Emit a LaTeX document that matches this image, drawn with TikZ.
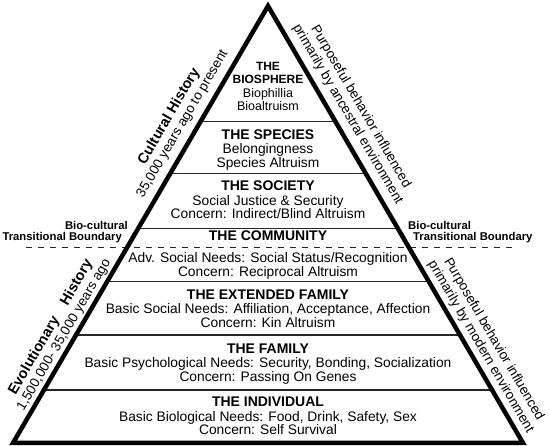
\documentclass[tikz,border=0pt]{standalone}
\usepackage{fontspec}
\setmainfont{Liberation Sans}
\usetikzlibrary{calc}
\tikzset{
  edge/.style={line width=4.5pt, line join=miter},
  divider/.style={line width=1.4pt, black!85},
  boundary/.style={line width=1.4pt, black!85, dash pattern=on 6pt off 6pt},
  head/.style={anchor=base, inner sep=0pt, font=\fontsize{14}{14}\selectfont\bfseries},
  body/.style={anchor=base, inner sep=0pt, font=\fontsize{13.8}{14}\selectfont},
  smallhead/.style={anchor=base, inner sep=0pt, font=\fontsize{12}{12}\selectfont\bfseries},
  smallbody/.style={anchor=base, inner sep=0pt, font=\fontsize{12.5}{12}\selectfont},
  tlabel/.style={inner sep=0pt, font=\fontsize{11.3}{12}\selectfont\bfseries},
  sidelabel/.style={align=center, inner sep=0pt, font=\fontsize{13.5}{15}\selectfont},
}
\begin{document}
\begin{tikzpicture}[x=1pt,y=-1pt]
\useasboundingbox (0,0) rectangle (550,446);
\coordinate (A) at (268,6);
\coordinate (BL) at (13,443);
\coordinate (BR) at (523,443);
% dividers
\foreach \t [count=\i] in {0.2643,0.3828,0.5087,0.6309,0.7529,0.8787}{
  \coordinate (l\i) at ($(A)!\t!(BL)$);
  \coordinate (r\i) at ($(A)!\t!(BR)$);
  \draw[divider] (l\i) -- (r\i);
}
\coordinate (dl) at (26,247.5);
\coordinate (dr) at (514,247.5);
\draw[boundary] (dl) -- (dr);
% outline
\draw[edge] (A) -- (BL) -- (BR) -- cycle;
% biosphere
\node[smallhead] (bio1) at (268,70.7) {THE};
\node[smallhead] (bio2) at (268,83.3) {BIOSPHERE};
\node[smallbody] (bio3) at (268,98) {Biophillia};
\node[smallbody] (bio4) at (268,111) {Bioaltruism};
% species
\node[head] (spe1) at (268,139.3) {THE SPECIES};
\node[body] (spe2) at (268,153.8) {Belongingness};
\node[body] (spe3) at (268,167.3) {Species Altruism};
% society
\node[head] (soc1) at (268,190.7) {THE SOCIETY};
\node[body] (soc2) at (268,205.2) {Social Justice \& Security};
\node[body] (soc3) at (268,218.7) {Concern: Indirect/Blind Altruism};
% community
\node[head] (com1) at (268,241) {THE COMMUNITY};
\node[body] (com2) at (268,263) {Adv. Social Needs: Social Status/Recognition};
\node[body] (com3) at (268,276.3) {Concern: Reciprocal Altruism};
% extended family
\node[head] (ext1) at (268,299.3) {THE EXTENDED FAMILY};
\node[body] (ext2) at (268,313.8) {Basic Social Needs: Affiliation, Acceptance, Affection};
\node[body] (ext3) at (268,327.3) {Concern: Kin Altruism};
% family
\node[head] (fam1) at (268,353.3) {THE FAMILY};
\node[body] (fam2) at (268,367.8) {Basic Psychological Needs: Security, Bonding, Socialization};
\node[body] (fam3) at (268,381.3) {Concern: Passing On Genes};
% individual
\node[head] (ind1) at (268,406.7) {THE INDIVIDUAL};
\node[body] (ind2) at (268,421.2) {Basic Biological Needs: Food, Drink, Safety, Sex};
\node[body] (ind3) at (268,434.7) {Concern: Self Survival};
% transitional boundary labels
\node[tlabel, anchor=base east] (tl1) at (128,229.5) {Bio-cultural};
\node[tlabel, anchor=base east] (tl2) at (122,240.7) {Transitional Boundary};
\node[tlabel, anchor=base west] (tr1) at (408,229.5) {Bio-cultural};
\node[tlabel, anchor=base west] (tr2) at (413,240.7) {Transitional Boundary};
% side labels
\node[sidelabel, rotate=59.74] (cult) at (175.6,120.1)
  {{\fontsize{14.5}{15}\selectfont\bfseries Cultural History}\\35,000 years ago to present};
\node[sidelabel, rotate=59.74] (evol) at (57.3,331)
  {{\fontsize{14.5}{15}\selectfont\bfseries Evolutionary\hspace{0.8em} History}\\1,500,000- 35,000 years ago};
\node[sidelabel, rotate=-59.74] (anc) at (354.2,110.5)
  {Purposeful behavior influenced\\primarily by ancestral environment};
\node[sidelabel, rotate=-59.74] (mod) at (487.2,343.2)
  {Purposeful behavior influenced\\primarily by modern environment};
\end{tikzpicture}
\end{document}
